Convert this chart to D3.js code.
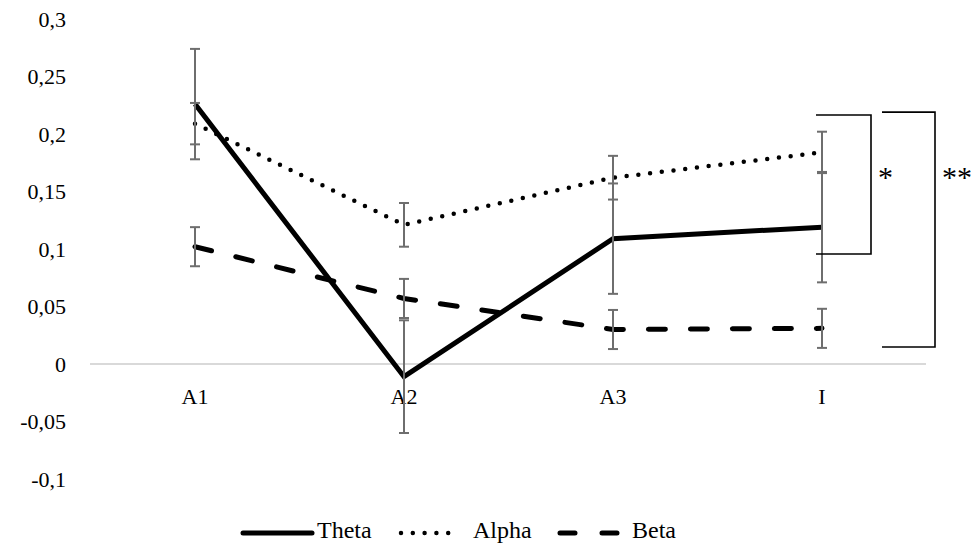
<!DOCTYPE html>
<html><head><meta charset="utf-8">
<script src="https://cdn.jsdelivr.net/npm/d3@7"></script>
<style>body{margin:0;background:#fff}svg{display:block}text{font-family:"Liberation Serif","Times New Roman",serif;fill:#000}</style>
</head><body><svg id="c" width="973" height="544"></svg>
<script>
const categories = ["A1","A2","A3","I"];
const theta = [0.226, -0.011, 0.109, 0.119];
const thetaErr = [0.048, 0.049, 0.048, 0.048];
const alpha = [0.209, 0.121, 0.162, 0.184];
const alphaErr = [0.018, 0.019, 0.019, 0.018];
const beta = [0.102, 0.057, 0.030, 0.031];
const betaErr = [0.017, 0.017, 0.017, 0.017];
const yTicks = [-0.1, -0.05, 0, 0.05, 0.1, 0.15, 0.2, 0.25, 0.3];
const seriesNames = ["Theta","Alpha","Beta"];
const sigLabels = ["*","**"];
const sigRanges = [[0.2165, 0.0957],[0.219, 0.0148]];

const svg = d3.select("#c");
const x = d3.scaleBand().domain(categories).range([90.5, 926.5]);
const y = d3.scaleLinear().domain([-0.1, 0.3]).range([479, 19]);
const cx = c => x(c) + x.bandwidth()/2;
const loc = d3.formatLocale({decimal:",", thousands:".", grouping:[3], currency:["",""], minus:"-"});
const fmt = v => v === 0 ? "0" : loc.format("~g")(+v.toFixed(2));

// y axis labels
const yAxis = d3.axisLeft(y).tickValues(yTicks).tickFormat(fmt).tickSize(0).tickPadding(0);
const ga = svg.append("g").attr("transform","translate(66,0)").call(yAxis);
ga.select(".domain").remove();
ga.selectAll("text").attr("font-size","22px").attr("fill","#000");

// zero line
svg.append("line").attr("x1",90).attr("x2",926).attr("y1",y(0)).attr("y2",y(0))
  .attr("stroke","#d9d9d9").attr("stroke-width",2);

// category labels
const xAxis = d3.axisBottom(x).tickSize(0).tickPadding(0);
const gx = svg.append("g").attr("transform",`translate(0,${y(0)+25})`).call(xAxis);
gx.select(".domain").remove();
gx.selectAll("text").attr("font-size","22px").attr("fill","#000").attr("dy","0.7em");

const series = [
  {name:"Theta", vals:theta, err:thetaErr, dash:null, w:5, cap:"butt"},
  {name:"Alpha", vals:alpha, err:alphaErr, dash:"0,11.8", w:4.5, cap:"round"},
  {name:"Beta", vals:beta, err:betaErr, dash:"17,25", w:5, cap:"round"}
];
const line = d3.line().x((d,i)=>cx(categories[i])).y(d=>y(d));
series.forEach(s=>{
  const p = svg.append("path").datum(s.vals).attr("d",line).attr("fill","none")
    .attr("stroke","#000").attr("stroke-width",s.w).attr("stroke-linecap",s.cap).attr("stroke-linejoin","miter");
  if (s.dash) p.attr("stroke-dasharray",s.dash);
});
// error bars
series.forEach(s=>{
  const g = svg.append("g").attr("stroke","#6e6e6e").attr("stroke-width",2);
  s.vals.forEach((v,i)=>{
    const X = cx(categories[i]);
    const t = y(v + s.err[i]), b = y(v - s.err[i]);
    g.append("line").attr("x1",X).attr("x2",X).attr("y1",t).attr("y2",b);
    g.append("line").attr("x1",X-5).attr("x2",X+5).attr("y1",t).attr("y2",t);
    g.append("line").attr("x1",X-5).attr("x2",X+5).attr("y1",b).attr("y2",b);
  });
});

// significance brackets
const brX = [[816, 871],[882, 935]];
sigRanges.forEach((r,k)=>{
  const [x0,x1] = brX[k];
  svg.append("path").attr("d",`M${x0},${y(r[0])}H${x1}V${y(r[1])}H${x0}`)
    .attr("fill","none").attr("stroke","#000").attr("stroke-width",1.6);
  svg.append("text").attr("x",x1+7).attr("y",187).attr("font-size","30px").text(sigLabels[k]);
});

// legend
const leg = [
  {x0:243, x1:312, tx:317},
  {x0:401, x1:460, tx:473},
  {x0:560, x1:617, tx:632}
];
const ly = 533;
series.forEach((s,i)=>{
  const l = leg[i];
  const ln = svg.append("line").attr("x1",l.x0).attr("x2",l.x1).attr("y1",ly).attr("y2",ly)
    .attr("stroke","#000").attr("stroke-width",s.w).attr("stroke-linecap",s.cap==="butt"?"round":s.cap);
  if (s.name==="Alpha") ln.attr("stroke-dasharray","0,11.8");
  if (s.name==="Beta") ln.attr("stroke-dasharray","15,27");
  svg.append("text").attr("x",l.tx).attr("y",ly+5).attr("font-size","24px").text(seriesNames[i]);
});
</script></body></html>
